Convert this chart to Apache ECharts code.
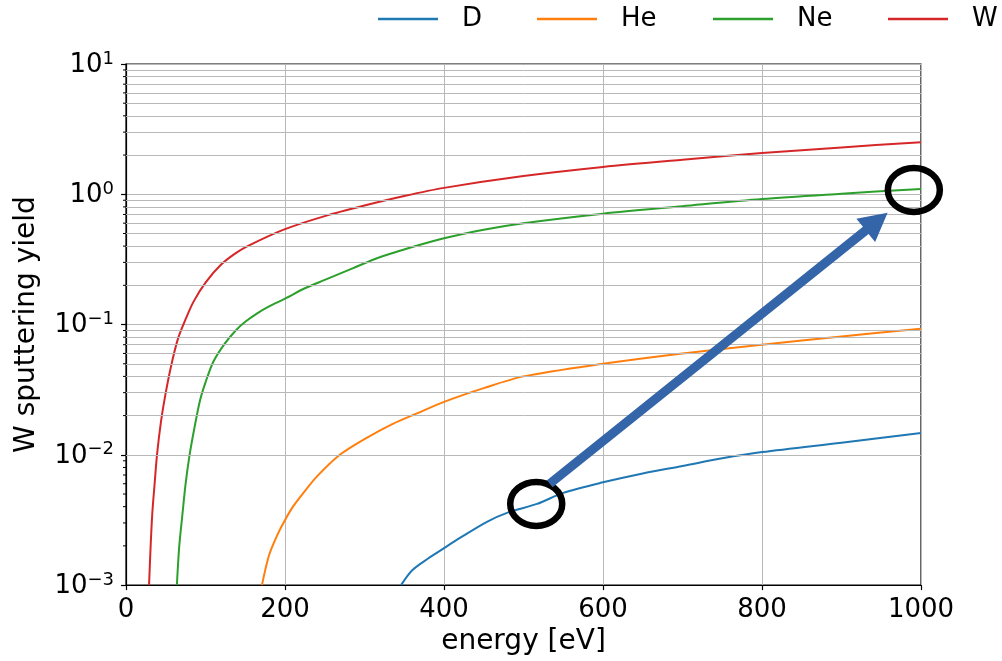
<!DOCTYPE html>
<html>
<head>
<meta charset="utf-8">
<title>W sputtering yield</title>
<script src="https://cdn.jsdelivr.net/npm/echarts@6/dist/echarts.min.js"></script>
<style>
  html, body { margin: 0; padding: 0; background: #fff; }
  #chart { width: 1002px; height: 661px; }
</style>
</head>
<body>
<div id="chart"></div>
<script>
// Projectile species and their yield curves (energy in eV, yield in atoms/ion)
const speciesNames = ['D', 'He', 'Ne', 'W'];
const speciesColors = ['#1f77b4', '#ff7f0e', '#2ca02c', '#d62728'];

const energyD  = [346, 360, 380, 400, 420, 454, 480, 517, 550, 600, 650, 700, 750, 800, 900, 1000];
const yieldD   = [0.001, 0.0013, 0.0016, 0.00192, 0.0023, 0.00306, 0.0036, 0.0042, 0.0051, 0.00615, 0.0072, 0.0082, 0.0094, 0.0105, 0.0124, 0.0147];

const energyHe = [171, 180, 190, 198, 210, 222, 240, 269, 300, 335, 370, 400, 450, 500, 600, 700, 800, 900, 1000];
const yieldHe  = [0.001, 0.0017, 0.0024, 0.003, 0.004, 0.005, 0.0068, 0.01, 0.0132, 0.0172, 0.0213, 0.0255, 0.0325, 0.040, 0.050, 0.060, 0.070, 0.081, 0.093];

const energyNe = [64, 67, 71, 75, 80, 86, 93, 100, 110, 124, 138, 150, 165, 180, 200, 225, 250, 285, 320, 370, 400, 450, 500, 600, 700, 800, 900, 1000];
const yieldNe  = [0.001, 0.002, 0.0035, 0.006, 0.01, 0.016, 0.026, 0.036, 0.052, 0.071, 0.090, 0.105, 0.122, 0.138, 0.158, 0.19, 0.22, 0.27, 0.33, 0.41, 0.46, 0.535, 0.60, 0.71, 0.81, 0.92, 1.01, 1.10];

const energyW  = [29, 31, 33, 36, 39, 44, 50, 58, 66, 75, 85, 100, 120, 140, 160, 200, 250, 300, 350, 400, 500, 600, 700, 800, 900, 1000];
const yieldW   = [0.001, 0.002, 0.0035, 0.006, 0.01, 0.018, 0.03, 0.052, 0.08, 0.11, 0.15, 0.21, 0.29, 0.36, 0.42, 0.54, 0.68, 0.82, 0.97, 1.12, 1.38, 1.62, 1.84, 2.07, 2.29, 2.51];

const energyAxisTicks = [0, 200, 400, 600, 800, 1000];
const yieldDecades = [0.001, 0.01, 0.1, 1, 10];
// Minor gridlines at 2..9 of every decade
const minorYieldLines = [];
yieldDecades.slice(0, -1).forEach(d => { for (let k = 2; k <= 9; k++) minorYieldLines.push(+(d * k).toPrecision(3)); });

// Highlight marks: D at 500 eV versus Ne at 1 keV
const ringLow  = [516, 0.0042];
const ringHigh = [991, 1.08];
const arrowFrom = [533, 0.0060];
const arrowTo   = [958, 0.72];

const FONT = 'DejaVu Sans';
const GRID_GRAY = '#b8b8b8';
const series_energy = [energyD, energyHe, energyNe, energyW];
const series_yield = [yieldD, yieldHe, yieldNe, yieldW];

const chart = echarts.init(document.getElementById('chart'), null, { renderer: 'canvas' });

const supMinus = e => (e < 0 ? '\u2212' + (-e) : String(e));

const lineSeries = speciesNames.map((name, i) => ({
  name: name,
  type: 'line',
  data: series_energy[i].map((e, j) => [e, series_yield[i][j]]),
  showSymbol: false,
  symbol: 'none',
  smooth: 0.3,
  clip: true,
  z: 3,
  lineStyle: { color: speciesColors[i], width: 2 },
  itemStyle: { color: speciesColors[i] },
  animation: false
}));

// Minor horizontal gridlines drawn by the y axis scale
lineSeries.push({
  type: 'line',
  data: [],
  z: 1,
  silent: true,
  animation: false,
  markLine: {
    silent: true,
    symbol: 'none',
    animation: false,
    label: { show: false },
    lineStyle: { color: GRID_GRAY, width: 1, type: 'solid' },
    data: minorYieldLines.map(v => ({ yAxis: v }))
  }
});

const legendLeft = [378, 537, 713, 888];

const option = {
  backgroundColor: '#fff',
  animation: false,
  textStyle: { fontFamily: FONT },
  legend: speciesNames.map((name, i) => ({
    data: [name],
    left: legendLeft[i],
    top: 6,
    padding: 0,
    icon: 'rect',
    itemWidth: 60,
    itemHeight: 2.5,
    selectedMode: false,
    textStyle: { fontFamily: FONT, fontSize: 26, color: '#000', padding: [0, 0, 0, 19] }
  })),
  grid: {
    left: 126, right: 81, top: 64, bottom: 71,
    show: true, borderColor: '#000', borderWidth: 1.2, backgroundColor: 'transparent',
    containLabel: false
  },
  xAxis: {
    type: 'value',
    min: energyAxisTicks[0],
    max: energyAxisTicks[energyAxisTicks.length - 1],
    interval: energyAxisTicks[1] - energyAxisTicks[0],
    name: 'energy [eV]',
    nameLocation: 'middle',
    nameGap: 42,
    nameTextStyle: { fontFamily: FONT, fontSize: 28, color: '#000' },
    axisLine: { show: true, lineStyle: { color: '#000', width: 1.2 } },
    axisTick: { show: true, inside: false, length: 5, lineStyle: { color: '#000', width: 1.2 } },
    axisLabel: {
      fontFamily: FONT, fontSize: 26, color: '#000', margin: 12,
      showMinLabel: true, showMaxLabel: true,
      formatter: v => String(v)
    },
    splitLine: { show: true, lineStyle: { color: GRID_GRAY, width: 1 } }
  },
  yAxis: {
    type: 'log',
    logBase: 10,
    min: yieldDecades[0],
    max: yieldDecades[yieldDecades.length - 1],
    name: 'W sputtering yield',
    nameLocation: 'middle',
    nameGap: 85,
    nameTextStyle: { fontFamily: FONT, fontSize: 28, color: '#000' },
    axisLine: { show: true, lineStyle: { color: '#000', width: 1.2 } },
    axisTick: { show: true, inside: false, length: 5, lineStyle: { color: '#000', width: 1.2 } },
    axisLabel: {
      margin: 12,
      showMinLabel: true, showMaxLabel: true,
      formatter: v => '{b|10}{s|' + supMinus(Math.round(Math.log10(v))) + '}',
      rich: {
        b: { fontFamily: FONT, fontSize: 26, color: '#000', lineHeight: 28, verticalAlign: 'bottom' },
        s: { fontFamily: FONT, fontSize: 18, color: '#000', lineHeight: 28, verticalAlign: 'top' }
      }
    },
    splitLine: { show: true, lineStyle: { color: GRID_GRAY, width: 1 } }
  },
  series: lineSeries
};

chart.setOption(option);

// Minor ticks on the y axis plus the ring / arrow highlight, placed through the axis scales
function drawOverlay() {
  const toPx = p => chart.convertToPixel({ gridIndex: 0 }, p);
  const x0 = chart.convertToPixel({ xAxisIndex: 0 }, energyAxisTicks[0]);
  const elements = [];

  minorYieldLines.forEach(v => {
    const y = chart.convertToPixel({ yAxisIndex: 0 }, v);
    elements.push({
      type: 'line', z: 50, silent: true,
      shape: { x1: x0 - 3, y1: y, x2: x0, y2: y },
      style: { stroke: '#000', lineWidth: 1 }
    });
  });

  [ringLow, ringHigh].forEach(p => {
    const c = toPx(p);
    elements.push({
      type: 'ellipse', z: 100, silent: true,
      shape: { cx: c[0], cy: c[1], rx: 26, ry: 22 },
      style: { fill: 'none', stroke: '#000', lineWidth: 6.5 }
    });
  });

  const a = toPx(arrowFrom);
  const b = toPx(arrowTo);
  const dx = b[0] - a[0], dy = b[1] - a[1];
  const len = Math.hypot(dx, dy);
  const ux = dx / len, uy = dy / len;
  const nx = -uy, ny = ux;
  const shaftHalf = 4.5, headHalf = 15, headLen = 28;
  const bx = b[0] - ux * headLen, by = b[1] - uy * headLen;
  elements.push({
    type: 'polygon', z: 100, silent: true,
    shape: {
      points: [
        [a[0] + nx * shaftHalf, a[1] + ny * shaftHalf],
        [bx + nx * shaftHalf, by + ny * shaftHalf],
        [bx + nx * headHalf, by + ny * headHalf],
        [b[0], b[1]],
        [bx - nx * headHalf, by - ny * headHalf],
        [bx - nx * shaftHalf, by - ny * shaftHalf],
        [a[0] - nx * shaftHalf, a[1] - ny * shaftHalf]
      ]
    },
    style: { fill: '#3465a8', stroke: null }
  });

  chart.setOption({ graphic: { elements: elements } });
}
drawOverlay();
</script>
</body>
</html>
